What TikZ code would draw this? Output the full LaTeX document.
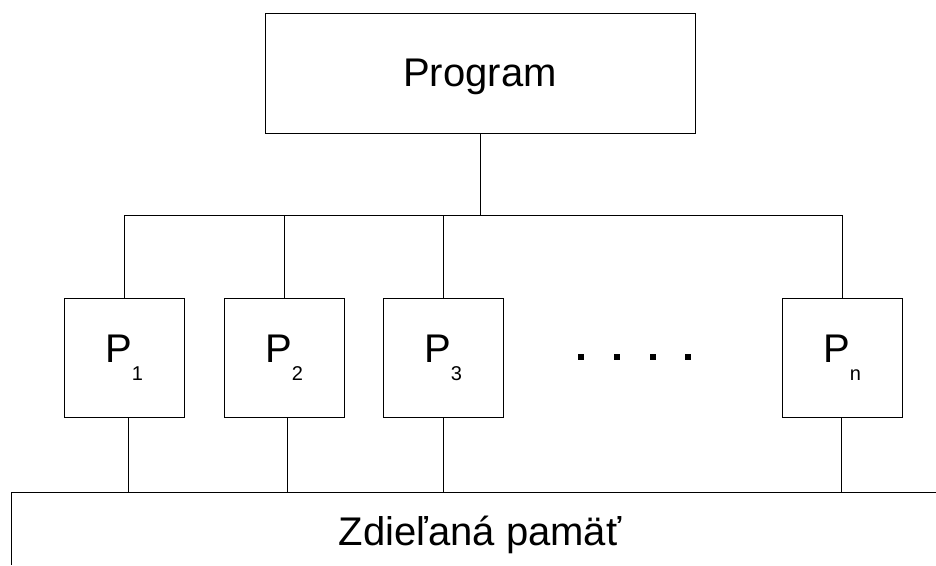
\documentclass[tikz,border=0pt]{standalone}
\usepackage{fontspec}
\setmainfont{Liberation Sans}
\newcommand{\proc}[1]{P\raisebox{-18pt}{\fontsize{20}{24}\selectfont #1}}
\begin{document}
\begin{tikzpicture}[x=1pt, y=-1pt, line width=1pt, font=\fontsize{40}{48}\selectfont,
		box/.style={draw, inner sep=0pt, minimum width=120pt, minimum height=119pt}]
		\useasboundingbox (0,0) rectangle (936,565);
		\node[draw, inner sep=0pt, minimum width=430pt, minimum height=120pt, text depth=0pt] (prog) at (480,73) {Program};
		\node[box] (p1) at (124,357.5) {\proc{1}};
		\node[box] (p2) at (284,357.5) {\proc{2}};
		\node[box] (p3) at (443,357.5) {\proc{3}};
		\node[box] (pn) at (842,357.5) {\proc{n}};
		\coordinate (bus) at (0,215);
		\coordinate (mem) at (11,492);
		\draw (prog.south) -- (prog.south |- bus);
		\draw (p1.north) -- (p1.north |- bus) -- (pn.north |- bus) -- (pn.north);
		\draw (p2.north) -- (p2.north |- bus);
		\draw (p3.north) -- (p3.north |- bus);
		\foreach \p/\dx in {p1/4,p2/3,p3/0,pn/-1}{
			\draw ([xshift=\dx pt]\p.south) -- ([xshift=\dx pt]\p.south |- mem);
		}
		\foreach \x in {581,617,653,688}{
			\fill[black] (\x-3,354) rectangle (\x+3,360);
		}
		\draw (936,492) -- (mem) -- (11,565);
		\node[anchor=base] (memtext) at (480,545) {Zdieľaná pamäť};
	\end{tikzpicture}
\end{document}
